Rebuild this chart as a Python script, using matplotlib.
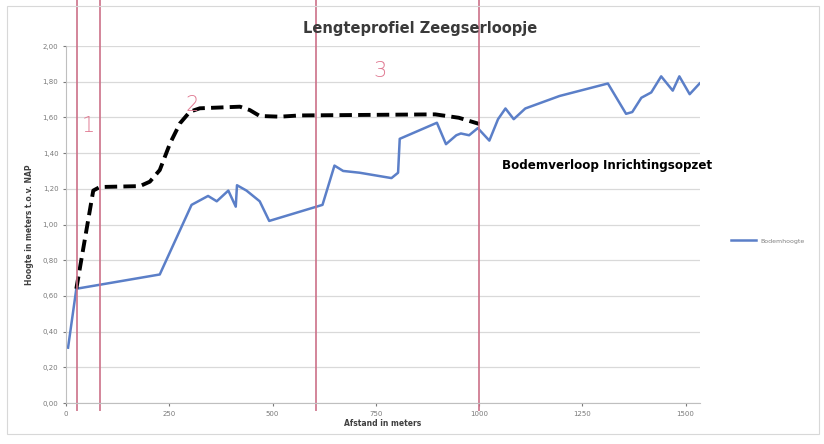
import matplotlib
matplotlib.use("Agg")
import matplotlib.pyplot as plt
from matplotlib.patches import Rectangle

# measured bed level along the stream
afstand = [5, 25, 227, 304, 344, 365, 393, 411, 414, 437, 469, 492, 621, 650, 671,
           711, 788, 804, 808, 898, 920, 945, 956, 976, 997, 1025, 1046, 1064, 1084,
           1112, 1195, 1312, 1356, 1371, 1393, 1417, 1441, 1469, 1485, 1510, 1534]
hoogte = [0.31, 0.64, 0.72, 1.11, 1.16, 1.13, 1.19, 1.10, 1.22, 1.19, 1.13, 1.02, 1.11,
          1.33, 1.30, 1.29, 1.26, 1.29, 1.48, 1.57, 1.45, 1.50, 1.51, 1.50, 1.54, 1.47,
          1.59, 1.65, 1.59, 1.65, 1.72, 1.79, 1.62, 1.63, 1.71, 1.74, 1.83, 1.75, 1.83,
          1.73, 1.79]

# planned bed level (design)
opzet_x = [25, 66, 82, 179, 203, 227, 252, 276, 300, 324, 421, 445, 469, 518,
           566, 894, 951, 1001]
opzet_y = [0.64, 1.19, 1.21, 1.215, 1.24, 1.305, 1.455, 1.567, 1.632, 1.651,
           1.66, 1.641, 1.608, 1.604, 1.611, 1.617, 1.598, 1.563]

# section boundaries and their numbers
grenzen = [27, 82, 605, 1000]
vak_nummers = ["1", "2", "3"]
vak_pos = [(53, 1.55), (305, 1.67), (760, 1.86)]

fig = plt.figure(figsize=(8.24, 4.44), dpi=100)
ax = fig.add_axes([66 / 824, 1 - 403 / 444, 634 / 824, 357 / 444])

ax.set_xlim(0, 1535)
ax.set_ylim(0, 2.0)
ax.set_xticks([0, 250, 500, 750, 1000, 1250, 1500])
ax.set_yticks([i * 0.2 for i in range(11)])
ax.set_yticklabels([f"{i * 0.2:.2f}".replace(".", ",") for i in range(11)])
ax.tick_params(labelsize=5, colors="#7a7a7a", length=2)
ax.grid(axis="y", color="#d9d9d9", linewidth=0.9)
ax.set_axisbelow(True)
for s in ["top", "right"]:
    ax.spines[s].set_visible(False)
ax.spines["left"].set_color("#bfbfbf")
ax.spines["bottom"].set_color("#bfbfbf")

ax.set_xlabel("Afstand in meters", fontsize=5.5, fontweight="bold", color="#404040", labelpad=2)
ax.set_ylabel("Hoogte in meters t.o.v. NAP", fontsize=5.5, fontweight="bold", color="#404040", labelpad=6)

ax.plot(afstand, hoogte, color="#5b7fc8", linewidth=1.8, label="Bodemhoogte")
ax.plot(opzet_x, opzet_y, color="black", linewidth=2.8, linestyle=(0, (3.2, 1.6)),
        solid_joinstyle="round")

ax.text(1055, 1.33, "Bodemverloop Inrichtingsopzet", fontsize=8.6, fontweight="bold",
        color="black", va="center", ha="left", clip_on=False)

# red section lines run over the whole chart
for g in grenzen:
    ax.plot([g, g], [-0.04, 2.26], color="#cc7088", linewidth=1.4, alpha=0.85, clip_on=False)
for nr, (x, y) in zip(vak_nummers, vak_pos):
    ax.text(x, y, nr, fontsize=15, color="#e07a92", ha="center", va="center",
            fontweight="light")

leg = fig.legend(loc="center left", bbox_to_anchor=(725 / 824, 1 - 241 / 444), fontsize=4.5,
                 frameon=False, handlelength=4, labelcolor="#808080")

fig.text(420 / 824, 1 - 28 / 444, "Lengteprofiel Zeegserloopje", fontsize=10.5,
         fontweight="bold", color="#3a3a3a", ha="center", va="center")

fig.patches.append(Rectangle((7 / 824, 10 / 444), 812 / 824, 428 / 444, transform=fig.transFigure,
                             fill=False, edgecolor="#d8d8d8", linewidth=0.8))

fig.savefig("out.png", dpi=100)
